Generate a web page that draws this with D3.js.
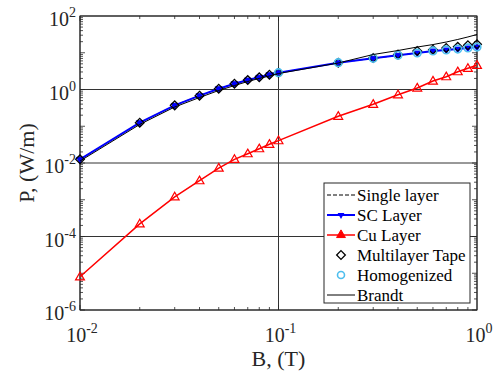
<!DOCTYPE html>
<html><head><meta charset="utf-8">
<script src="https://cdn.jsdelivr.net/npm/d3@7"></script>
<style>body{margin:0;background:#fff}svg{display:block}text{font-family:'Liberation Serif','Times New Roman',serif}</style>
</head><body><svg id="c" width="496" height="374"></svg>
<script>
const B = [0.01,0.02,0.03,0.04,0.05,0.06,0.07,0.08,0.09,0.1,0.2,0.3,0.4,0.5,0.6,0.7,0.8,0.9,1.0];
const scLayer = [0.0126,0.125,0.37,0.68,1.05,1.44,1.81,2.15,2.53,2.87,5.36,7.06,8.53,9.85,11.2,11.9,12.6,13.5,14.3];
const singleLayer = [0.0126,0.125,0.37,0.68,1.05,1.44,1.81,2.15,2.53,2.87,5.36,7.06,8.53,9.85,11.2,11.9,12.6,13.5,14.3];
const cuLayer = [8e-6,2.2e-4,1.2e-3,3.3e-3,7.3e-3,0.0126,0.0179,0.0245,0.0323,0.0405,0.187,0.396,0.72,1.1,1.7,2.23,3.05,3.77,4.56];
const multilayer = [0.0126,0.125,0.37,0.68,1.05,1.44,1.81,2.15,2.53,2.87,5.36,7.2,8.96,11.2,12.1,13.5,14.5,16.0,17.0];
const homB = [0.1,0.2,0.3,0.4,0.5,0.6,0.7,0.8,0.9,1.0];
const homogenized = [2.87,5.36,7.06,8.53,9.85,11.2,11.9,12.6,13.5,14.3];
const brandt = [0.0113,0.112,0.334,0.605,0.94,1.28,1.65,2.0,2.33,2.72,5.26,8.96,11.5,14.3,16.7,19.6,23.0,26.9,31.4];
const xTickExps = [-2,-1,0];
const yTickExps = [-6,-4,-2,0,2];
const legendLabels = ["Single layer","SC Layer","Cu Layer","Multilayer Tape","Homogenized","Brandt"];

const svg = d3.select("#c");
const L=80,R=477,T=16,Bt=310;
const x = d3.scaleLog().domain([0.01,1]).range([L,R]);
const y = d3.scaleLog().domain([1e-6,1e2]).range([Bt,T]);
const axisCol="#262626";

svg.append("rect").attr("x",L).attr("y",T).attr("width",R-L).attr("height",Bt-T).attr("fill","#fff");

// grid
const g = svg.append("g");
xTickExps.forEach(e=>{g.append("line").attr("x1",x(Math.pow(10,e))).attr("x2",x(Math.pow(10,e))).attr("y1",T).attr("y2",Bt).attr("stroke","#333").attr("stroke-width",1);});
yTickExps.forEach(e=>{g.append("line").attr("x1",L).attr("x2",R).attr("y1",y(Math.pow(10,e))).attr("y2",y(Math.pow(10,e))).attr("stroke","#333").attr("stroke-width",1);});

// minor ticks
const ax = svg.append("g").attr("stroke",axisCol).attr("stroke-width",0.8);
for(let e=-2;e<0;e++){for(let m=1;m<10;m++){const v=m*Math.pow(10,e);const len=m===1?5:3;const px=x(v);
 ax.append("line").attr("x1",px).attr("x2",px).attr("y1",Bt).attr("y2",Bt-len);
 ax.append("line").attr("x1",px).attr("x2",px).attr("y1",T).attr("y2",T+len);}}
for(let e=-6;e<2;e++){for(let m=1;m<10;m++){const v=m*Math.pow(10,e);const len=m===1?5:3;const py=y(v);
 ax.append("line").attr("x1",L).attr("x2",L+len).attr("y1",py).attr("y2",py);
 ax.append("line").attr("x1",R).attr("x2",R-len).attr("y1",py).attr("y2",py);}}

// box
svg.append("rect").attr("x",L).attr("y",T).attr("width",R-L).attr("height",Bt-T).attr("fill","none").attr("stroke",axisCol).attr("stroke-width",1);

// tick labels
function sup(sel,exp){sel.append("tspan").text("10");sel.append("tspan").attr("dy",-9).attr("font-size",14).text(exp<0?"-"+(-exp):String(exp));}
xTickExps.forEach(e=>{const t=svg.append("text").attr("x",x(Math.pow(10,e))+2).attr("y",342).attr("text-anchor","middle").attr("font-size",20).attr("fill",axisCol);sup(t,e);});
yTickExps.forEach(e=>{const t=svg.append("text").attr("x",76).attr("y",y(Math.pow(10,e))+10).attr("text-anchor","end").attr("font-size",20).attr("fill",axisCol);sup(t,e);});

svg.append("text").attr("x",(L+R)/2).attr("y",366).attr("text-anchor","middle").attr("font-size",22).attr("fill",axisCol).text("B, (T)");
svg.append("text").attr("transform",`translate(34,${(T+Bt)/2}) rotate(-90)`).attr("text-anchor","middle").attr("font-size",22).attr("fill",axisCol).text("P, (W/m)");

const line = d3.line().x(d=>x(d[0])).y(d=>y(d[1]));
const zip=(a,b)=>a.map((v,i)=>[v,b[i]]);
const plot = svg.append("g");
const tri = d3.symbol().type(d3.symbolTriangle).size(34);
const triDown = d3.symbol().type(d3.symbolTriangle).size(20);
const diam = d3.symbol().type(d3.symbolDiamond2 || d3.symbolDiamond).size(48);

// single layer dashed
plot.append("path").attr("d",line(zip(B,singleLayer))).attr("fill","none").attr("stroke","#000").attr("stroke-width",1).attr("stroke-dasharray","4,2");
// SC layer
plot.append("path").attr("d",line(zip(B,scLayer))).attr("fill","none").attr("stroke","#0000ff").attr("stroke-width",2);
zip(B,scLayer).forEach(d=>plot.append("path").attr("d",triDown).attr("transform",`translate(${x(d[0])},${y(d[1])}) rotate(180)`).attr("fill","#0000ff").attr("stroke","#0000ff"));
// Cu layer
plot.append("path").attr("d",line(zip(B,cuLayer))).attr("fill","none").attr("stroke","#ff0000").attr("stroke-width",1.5);
zip(B,cuLayer).forEach(d=>plot.append("path").attr("d",tri).attr("transform",`translate(${x(d[0])},${y(d[1])+0.5})`).attr("fill","none").attr("stroke","#ff0000").attr("stroke-width",1.2));
// Multilayer diamonds
zip(B,multilayer).forEach(d=>plot.append("path").attr("d",diam).attr("transform",`translate(${x(d[0])},${y(d[1])})`).attr("fill","none").attr("stroke","#000").attr("stroke-width",1.3));
// Homogenized
zip(homB,homogenized).forEach(d=>plot.append("circle").attr("cx",x(d[0])).attr("cy",y(d[1])).attr("r",3.8).attr("fill","none").attr("stroke","#4dbeee").attr("stroke-width",1.6));
// Brandt
plot.append("path").attr("d",line(zip(B,brandt))).attr("fill","none").attr("stroke","#000").attr("stroke-width",1);

// legend
const lg = svg.append("g");
lg.append("rect").attr("x",324).attr("y",183).attr("width",146).attr("height",120).attr("fill","#fff").attr("stroke",axisCol).attr("stroke-width",1);
legendLabels.forEach((lab,i)=>{const cy=195+i*20;const x1=327,x2=355,cx=341;
 if(i===0) lg.append("line").attr("x1",x1).attr("x2",x2).attr("y1",cy).attr("y2",cy).attr("stroke","#000").attr("stroke-dasharray","4,2");
 if(i===1){lg.append("line").attr("x1",x1).attr("x2",x2).attr("y1",cy).attr("y2",cy).attr("stroke","#0000ff").attr("stroke-width",2);
   lg.append("path").attr("d",triDown).attr("transform",`translate(${cx},${cy}) rotate(180)`).attr("fill","#0000ff");}
 if(i===2){lg.append("line").attr("x1",x1).attr("x2",x2).attr("y1",cy).attr("y2",cy).attr("stroke","#ff0000").attr("stroke-width",1.5);
   lg.append("path").attr("d",tri).attr("transform",`translate(${cx},${cy})`).attr("fill","#ff0000").attr("stroke","#ff0000");}
 if(i===3) lg.append("path").attr("d",diam).attr("transform",`translate(${cx},${cy})`).attr("fill","none").attr("stroke","#000").attr("stroke-width",1.3);
 if(i===4) lg.append("circle").attr("cx",cx).attr("cy",cy).attr("r",3.5).attr("fill","none").attr("stroke","#4dbeee").attr("stroke-width",1.6);
 if(i===5) lg.append("line").attr("x1",x1).attr("x2",x2).attr("y1",cy).attr("y2",cy).attr("stroke","#000");
 lg.append("text").attr("x",357).attr("y",cy+6).attr("font-size",17).attr("fill","#000").text(lab);
});
</script></body></html>
